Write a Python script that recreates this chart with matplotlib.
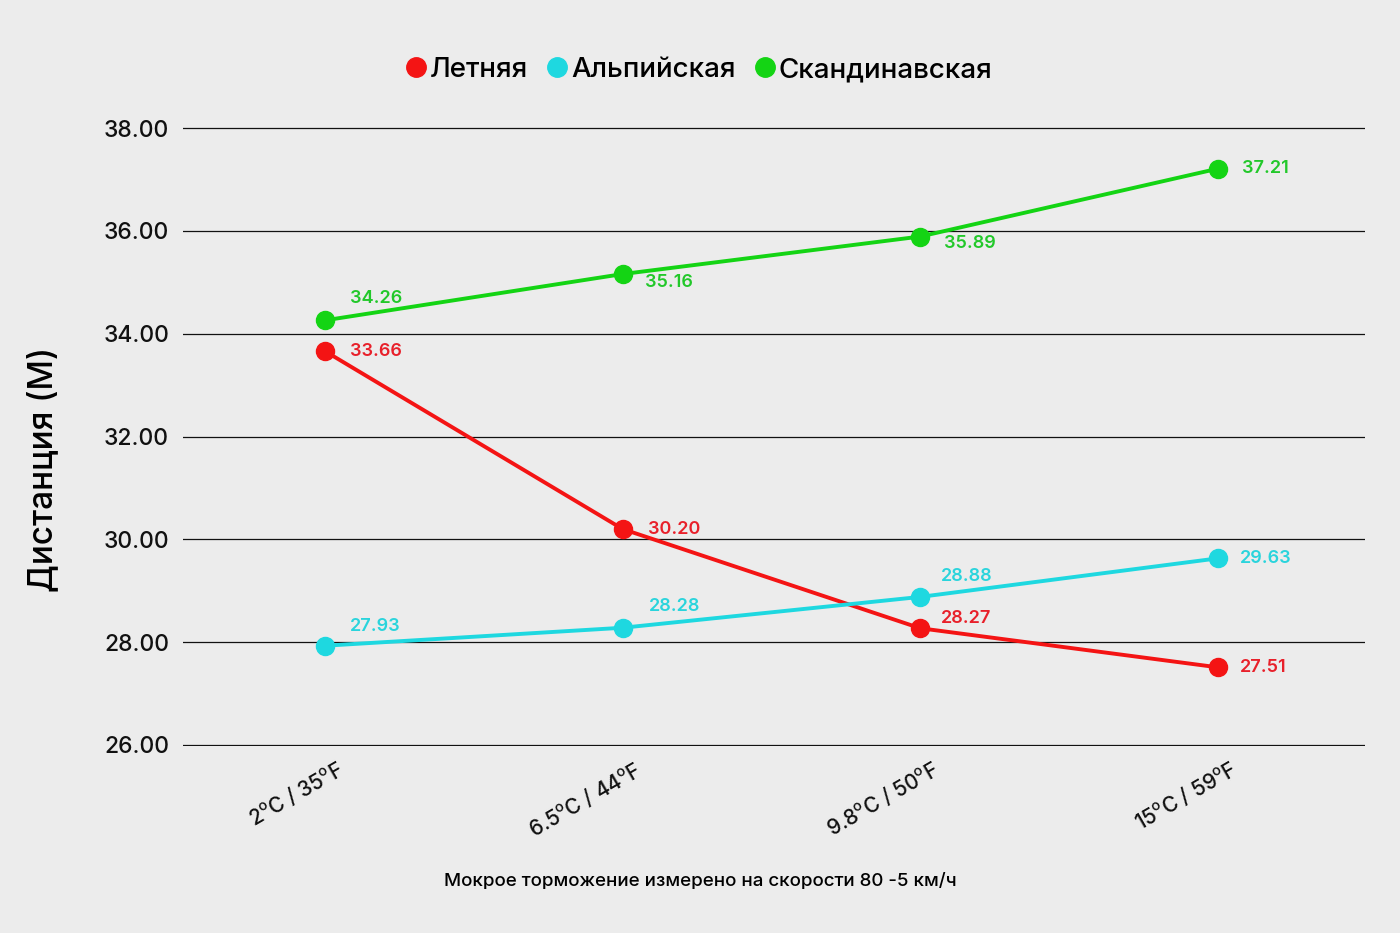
import numpy as np
import matplotlib
matplotlib.use("Agg")
import matplotlib.pyplot as plt

# data
categories = ["2$^{\\mathrm{o}}$C / 35$^{\\mathrm{o}}$F", "6.5$^{\\mathrm{o}}$C / 44$^{\\mathrm{o}}$F",
              "9.8$^{\\mathrm{o}}$C / 50$^{\\mathrm{o}}$F", "15$^{\\mathrm{o}}$C / 59$^{\\mathrm{o}}$F"]
summer = [33.66, 30.20, 28.27, 27.51]
alpine = [27.93, 28.28, 28.88, 29.63]
scandi = [34.26, 35.16, 35.89, 37.21]
names = ["Летняя", "Альпийская", "Скандинавская"]
yticks = [26, 28, 30, 32, 34, 36, 38]

# style
plt.rcParams['font.family'] = ['Inter', 'DejaVu Sans']
plt.rcParams['mathtext.fontset'] = 'custom'
plt.rcParams['mathtext.rm'] = 'Inter:medium'
bg = "#ececec"
colors = ["#f41414", "#1ed8e0", "#14d414"]
label_colors = ["#e8202a", "#2ad4dc", "#22c82a"]
# label offsets in points (dx, dy) per series per point
offsets = [
    [(18, 0), (18, 0), (15, 7), (16, 0)],
    [(18, 14), (19, 15), (15, 15), (16, 0)],
    [(18, 16), (16, -6), (17, -5), (17, 0)],
]

fig = plt.figure(figsize=(14, 9.33), dpi=100, facecolor=bg)
ax = fig.add_axes([0.1307, 0.1999, 0.8443, 0.6645], facecolor=bg)

x = np.arange(len(categories))
series = [summer, alpine, scandi]
for vals, c, lc, name, offs in zip(series, colors, label_colors, names, offsets):
    ax.plot(x, vals, color=c, linewidth=2.8, marker='o', markersize=13,
            label=name, zorder=3, solid_capstyle='round')
    for xi, v, (dx, dy) in zip(x, vals, offs):
        ax.annotate("%.2f" % v, (xi, v), xytext=(dx, dy), textcoords='offset points',
                    ha='left', va='center', color=lc, fontsize=13, fontweight='semibold')

ax.set_xlim(-0.477, 3.494)
ax.set_ylim(25.97, 38.03)
ax.set_yticks(yticks)
ax.set_yticklabels(["%.2f" % t for t in yticks], fontsize=16.5, fontweight='medium')
ax.set_xticks(x)
ax.set_xticklabels([])
# rotated category labels, anchored at their top-right corner
for xi, cat in zip(x, categories):
    ax.annotate(cat, (xi, 0), xycoords=('data', 'axes fraction'), xytext=(8, -8),
                textcoords='offset points', ha='right', va='top', rotation=30,
                rotation_mode='anchor', fontsize=15, fontweight='medium', color='#111111')
ax.tick_params(axis='both', length=0, colors='#111111')
ax.tick_params(axis='y', pad=10)
ax.yaxis.grid(True, color='#111111', linewidth=0.9)
ax.set_axisbelow(True)
for s in ax.spines.values():
    s.set_visible(False)

fig.text(0.031, 0.497, "Дистанция (M)", rotation=90, ha='center', va='center',
         fontsize=24, fontweight='medium')
fig.text(0.5, 0.055, "Мокрое торможение измерено на скорости 80 -5 км/ч",
         ha='center', va='center', fontsize=13.5, fontweight='medium')

leg = fig.legend(loc='center', bbox_to_anchor=(0.5, 0.925), ncol=3, frameon=False,
                 prop={'size': 20, 'weight': 'medium'},
                 handlelength=0.6, handletextpad=0.2, columnspacing=0.75)
for h in leg.legend_handles:
    h.set_linestyle('')
    h.set_markersize(14)

fig.savefig("out.png", dpi=100, facecolor=bg)
